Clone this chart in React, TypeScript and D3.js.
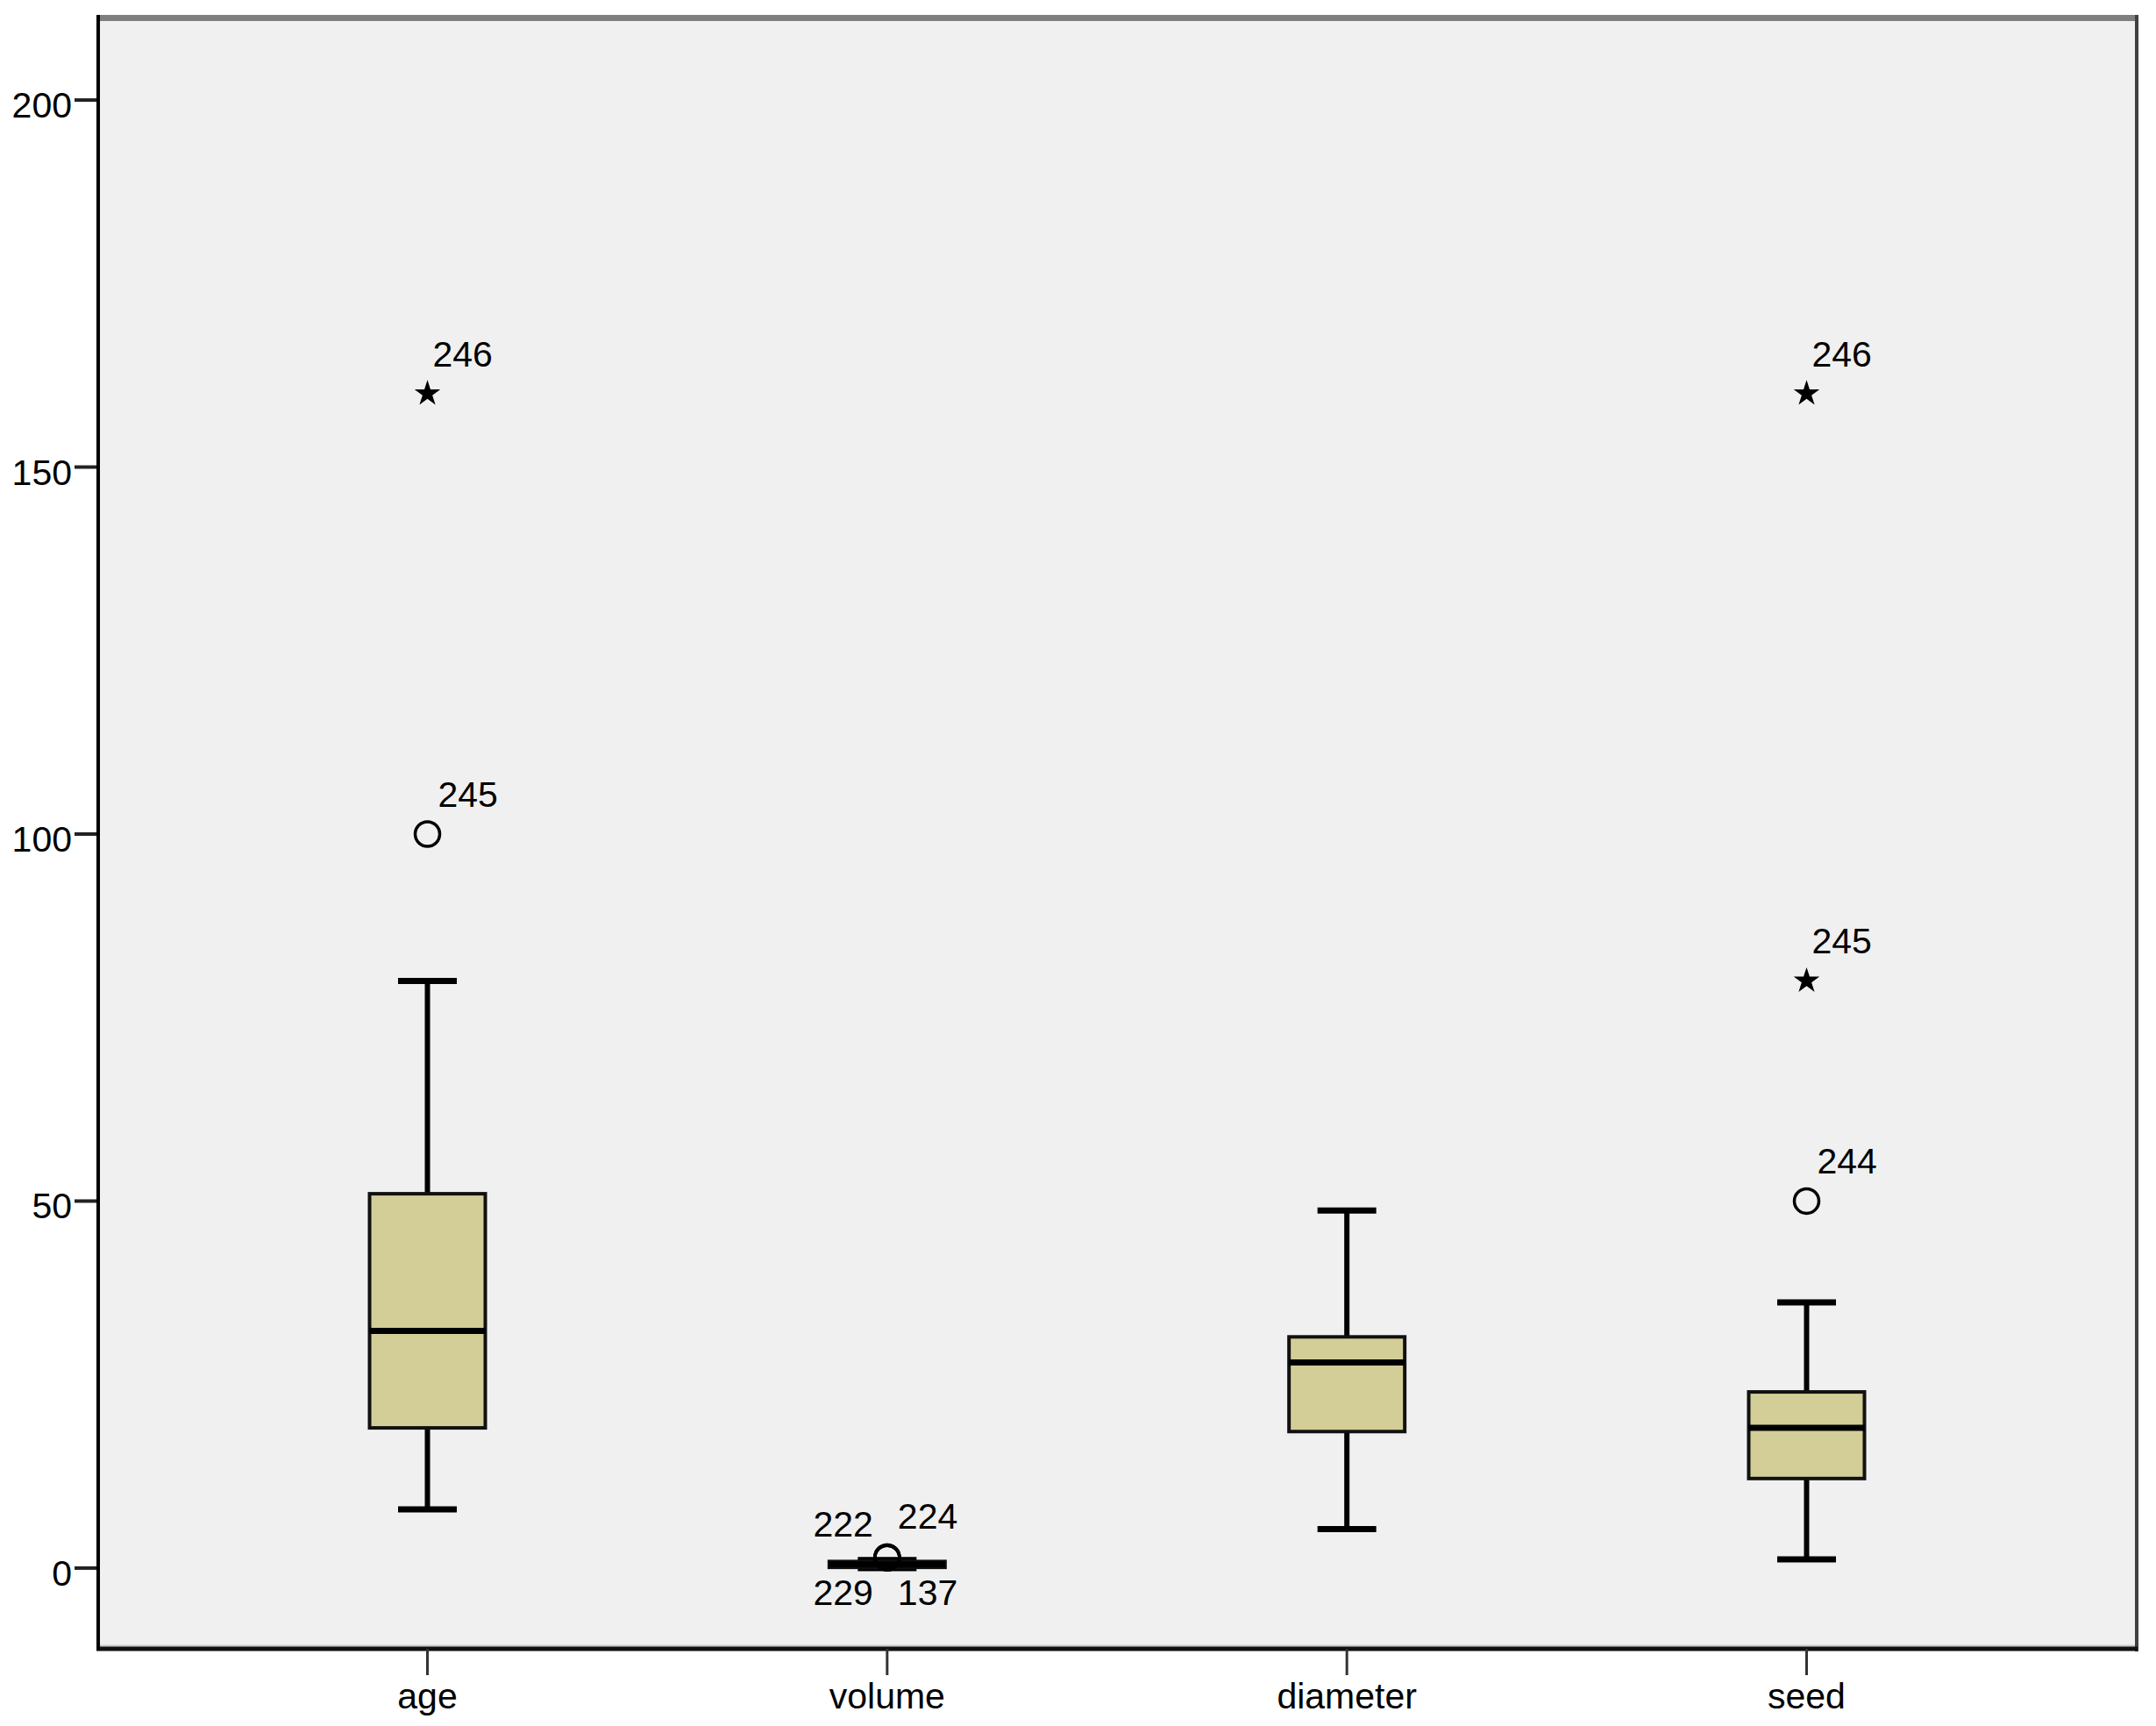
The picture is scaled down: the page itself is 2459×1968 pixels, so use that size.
import React, { useEffect, useRef } from 'react';
import * as d3 from 'd3';

// box plot summary
const categories = ['age', 'volume', 'diameter', 'seed'];
const whiskerLow = [8, 0, 5.3, 1.2];
const q1 = [19.1, 0.1, 18.6, 12.2];
const median = [32.3, 0.5, 28, 19.1];
const q3 = [51, 0.9, 31.5, 24];
const whiskerHigh = [80, 1.1, 48.7, 36.2];

// outliers (circle) and extremes (star), labelled by case number
const outlierCategory = ['age', 'age', 'volume', 'volume', 'volume', 'volume', 'seed', 'seed', 'seed'];
const outlierValue = [100, 160, 1.5, 1.5, 1.4, 1.4, 50, 80, 160];
const outlierId = ['245', '246', '222', '224', '229', '137', '244', '245', '246'];
const outlierExtreme = [false, true, false, false, false, false, false, true, true];

const yTicks = [0, 50, 100, 150, 200];

const W = 2459;
const H = 1968;
const plotLeft = 110;
const plotRight = 2438;
const plotTop = 17;
const plotBottom = 1880;
const boxWidth = 132;
const capWidth = 67;
const fill = '#D3CE97';
const font = '"Liberation Sans", Arial, sans-serif';
const fontSize = 41;

export default function App() {
  const ref = useRef<SVGSVGElement | null>(null);

  useEffect(() => {
    const svg = d3.select(ref.current);
    svg.selectAll('*').remove();

    const x = d3.scalePoint<string>().domain(categories).range([plotLeft, plotRight]).padding(0.72);
    const y = d3.scaleLinear().domain([-11, 211.6]).range([plotBottom, plotTop]);

    // plot area
    svg.append('rect')
      .attr('x', plotLeft).attr('y', plotTop)
      .attr('width', plotRight - plotLeft).attr('height', plotBottom - plotTop)
      .attr('fill', '#F0F0F0');
    svg.append('line').attr('x1', plotLeft).attr('x2', plotRight).attr('y1', plotTop + 3.5).attr('y2', plotTop + 3.5)
      .attr('stroke', '#7f7f7f').attr('stroke-width', 7);
    svg.append('line').attr('x1', plotLeft).attr('x2', plotRight).attr('y1', plotBottom - 3).attr('y2', plotBottom - 3)
      .attr('stroke', '#c8c8c8').attr('stroke-width', 3);
    svg.append('line').attr('x1', plotRight - 1).attr('x2', plotRight - 1).attr('y1', plotTop).attr('y2', plotBottom + 3)
      .attr('stroke', '#404040').attr('stroke-width', 4);
    svg.append('line').attr('x1', plotLeft).attr('x2', plotRight).attr('y1', plotBottom).attr('y2', plotBottom)
      .attr('stroke', '#111').attr('stroke-width', 5);
    svg.append('line').attr('x1', plotLeft + 2).attr('x2', plotLeft + 2).attr('y1', plotTop).attr('y2', plotBottom + 2)
      .attr('stroke', '#000').attr('stroke-width', 4);

    // y axis
    const yAxis = svg.append('g').attr('font-family', font).attr('font-size', fontSize);
    yTicks.forEach(t => {
      yAxis.append('line').attr('x1', 85).attr('x2', plotLeft).attr('y1', y(t)).attr('y2', y(t))
        .attr('stroke', '#222').attr('stroke-width', 4);
      yAxis.append('text').attr('x', 82).attr('y', y(t) + 20).attr('text-anchor', 'end').attr('fill', '#000').text(t);
    });

    // x axis
    const xAxis = svg.append('g').attr('font-family', font).attr('font-size', fontSize);
    categories.forEach(c => {
      const cx = x(c) as number;
      xAxis.append('line').attr('x1', cx).attr('x2', cx).attr('y1', plotBottom).attr('y2', 1910)
        .attr('stroke', '#333').attr('stroke-width', 3);
      xAxis.append('text').attr('x', cx).attr('y', 1948).attr('text-anchor', 'middle').attr('fill', '#000').text(c);
    });

    // boxes
    categories.forEach((c, i) => {
      const cx = x(c) as number;
      const g = svg.append('g');
      g.append('line').attr('x1', cx).attr('x2', cx).attr('y1', y(q3[i])).attr('y2', y(whiskerHigh[i]))
        .attr('stroke', '#000').attr('stroke-width', 6);
      g.append('line').attr('x1', cx).attr('x2', cx).attr('y1', y(q1[i])).attr('y2', y(whiskerLow[i]))
        .attr('stroke', '#000').attr('stroke-width', 6);
      [whiskerHigh[i], whiskerLow[i]].forEach(v => {
        g.append('line').attr('x1', cx - capWidth / 2).attr('x2', cx + capWidth / 2).attr('y1', y(v)).attr('y2', y(v))
          .attr('stroke', '#000').attr('stroke-width', 7);
      });
      g.append('rect')
        .attr('x', cx - boxWidth / 2).attr('y', y(q3[i]))
        .attr('width', boxWidth).attr('height', Math.max(1, y(q1[i]) - y(q3[i])))
        .attr('fill', fill).attr('stroke', '#111').attr('stroke-width', 4);
      g.append('line').attr('x1', cx - boxWidth / 2).attr('x2', cx + boxWidth / 2).attr('y1', y(median[i])).attr('y2', y(median[i]))
        .attr('stroke', '#000').attr('stroke-width', 7);
    });

    // outliers
    const star = d3.symbol().type(d3.symbolStar).size(270);
    const labels = svg.append('g').attr('font-family', font).attr('font-size', fontSize).attr('fill', '#000');
    outlierValue.forEach((v, i) => {
      const c = outlierCategory[i];
      const cx = x(c) as number;
      const cy = y(v);
      if (outlierExtreme[i]) {
        svg.append('path').attr('d', star() as string).attr('transform', `translate(${cx},${cy})`).attr('fill', '#000');
      } else {
        svg.append('circle').attr('cx', cx).attr('cy', cy).attr('r', 14)
          .attr('fill', 'none').attr('stroke', '#000').attr('stroke-width', 3.5);
      }

      // outliers that pile up on one spot get their labels spread round it
      const cluster = outlierValue
        .map((w, j) => j)
        .filter(j => outlierCategory[j] === c && Math.abs(outlierValue[j] - v) < 3);
      let lx = cx + (outlierExtreme[i] ? 6 : 12);
      let ly = cy - 31;
      let anchor = 'start';
      if (cluster.length > 1) {
        const k = cluster.indexOf(i);
        const left = k % 2 === 0;
        const top = k < 2;
        lx = left ? cx - 16 : cx + 12;
        anchor = left ? 'end' : 'start';
        ly = top ? (left ? cy - 24 : cy - 33) : cy + 54;
        const cyC = y(d3.mean(cluster, j => outlierValue[j]) as number);
        ly += cyC - cy;
      }
      labels.append('text').attr('x', lx).attr('y', ly).attr('text-anchor', anchor).text(outlierId[i]);
    });
  }, []);

  return (
    <svg ref={ref} width={W} height={H} style={{ position: 'absolute', left: 0, top: 0, background: '#fff' }} />
  );
}
